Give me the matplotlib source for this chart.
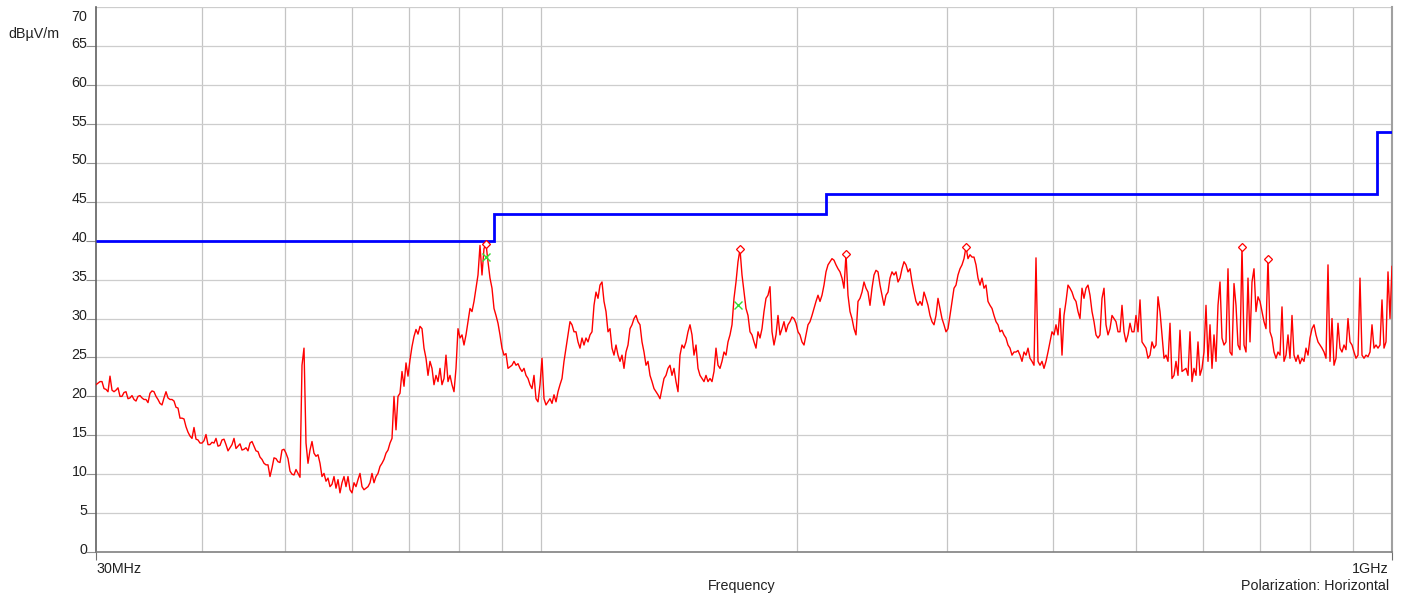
import numpy as np
import matplotlib
matplotlib.use("Agg")
import matplotlib.pyplot as plt
from matplotlib.ticker import NullLocator, FixedLocator

plt.rcParams['font.family'] = ['Liberation Sans', 'DejaVu Sans']

# Sweep: log-spaced receiver points from 30 MHz to 1 GHz (dBµV/m)
f_start, f_stop = 30.0, 1000.0
level = [
    21.5, 21.7, 21.9, 21.9, 21.0, 20.9, 20.6, 22.6, 20.8, 20.6,
    20.8, 21.1, 20.0, 20.0, 20.5, 20.6, 19.7, 19.8, 20.1, 19.6,
    19.4, 20.0, 20.1, 19.8, 19.6, 19.6, 19.2, 20.4, 20.7, 20.6,
    20.0, 19.6, 19.1, 18.9, 19.8, 20.6, 19.8, 19.6, 19.6, 19.4,
    18.6, 18.5, 17.2, 17.2, 17.1, 16.1, 15.4, 14.9, 14.6, 16.0,
    14.5, 14.4, 14.0, 14.0, 14.3, 15.1, 13.8, 13.8, 14.1, 14.0,
    14.6, 13.6, 13.7, 14.4, 14.5, 13.8, 13.0, 13.4, 13.8, 14.6,
    13.3, 13.6, 13.9, 13.1, 13.2, 13.4, 13.0, 14.0, 14.2, 13.6,
    13.0, 12.9, 12.2, 11.9, 11.4, 11.2, 11.2, 9.7, 10.8, 12.1,
    12.0, 11.6, 11.5, 13.1, 13.2, 12.7, 12.0, 10.4, 10.0, 9.9,
    10.6, 10.1, 9.6, 24.0, 26.2, 14.0, 11.4, 13.1, 14.2, 12.7,
    12.3, 12.5, 11.4, 9.7, 10.1, 9.1, 9.5, 8.4, 8.7, 9.7,
    8.2, 9.3, 7.6, 8.9, 9.7, 8.4, 9.7, 8.0, 7.6, 8.9,
    8.4, 9.3, 10.1, 8.4, 8.0, 8.2, 8.4, 8.9, 10.1, 8.9,
    9.7, 10.1, 11.0, 11.4, 11.9, 12.7, 13.1, 14.0, 14.6, 20.0,
    15.7, 20.0, 20.4, 23.2, 21.3, 24.3, 22.6, 24.7, 26.4, 27.7,
    28.6, 28.0, 29.0, 28.7, 26.2, 24.9, 22.7, 24.5, 23.6, 21.5,
    22.7, 21.9, 23.6, 21.5, 22.3, 25.3, 21.9, 22.7, 21.5, 20.6,
    23.6, 28.7, 27.5, 27.9, 26.6, 27.9, 29.6, 31.3, 30.9, 32.2,
    33.9, 35.6, 39.4, 35.6, 39.0, 39.6, 37.3, 35.2, 33.9, 31.3,
    30.4, 29.4, 27.9, 26.2, 25.3, 25.5, 23.6, 23.8, 24.0, 24.5,
    24.0, 24.2, 23.6, 23.2, 23.6, 22.7, 22.3, 21.5, 21.0, 22.7,
    19.7, 19.3, 21.5, 24.9, 19.7, 18.9, 19.3, 19.7, 19.1, 20.2,
    19.3, 20.6, 21.5, 22.3, 24.5, 26.2, 27.9, 29.6, 29.2, 28.3,
    28.3, 27.0, 26.2, 27.5, 26.6, 27.5, 27.0, 27.9, 28.3, 31.7,
    33.4, 32.6, 34.3, 34.7, 32.2, 30.9, 28.3, 28.7, 26.2, 25.3,
    26.6, 25.3, 24.5, 25.3, 23.6, 25.7, 26.6, 28.7, 29.2, 30.0,
    30.4, 29.6, 29.2, 27.0, 25.7, 24.0, 24.5, 22.7, 21.9, 21.0,
    20.6, 20.2, 19.7, 21.0, 22.3, 22.7, 23.6, 24.0, 22.7, 23.6,
    21.9, 20.6, 25.3, 26.6, 26.2, 27.0, 28.3, 29.2, 27.9, 25.3,
    26.6, 23.6, 22.7, 22.3, 21.9, 22.7, 21.9, 22.3, 21.9, 23.2,
    26.2, 24.0, 23.6, 24.5, 25.7, 25.3, 27.0, 27.9, 29.2, 32.6,
    34.7, 37.3, 38.9, 35.6, 33.4, 31.3, 30.4, 28.3, 27.9, 27.0,
    26.2, 28.3, 27.5, 28.7, 30.9, 32.6, 33.0, 34.1, 28.3, 26.6,
    27.9, 30.4, 27.9, 28.7, 29.6, 28.3, 29.2, 29.6, 30.2, 30.0,
    29.4, 28.3, 27.9, 27.0, 26.6, 27.9, 29.2, 29.6, 30.4, 31.3,
    32.2, 33.0, 32.2, 33.0, 34.3, 36.0, 36.9, 37.3, 37.7, 37.5,
    36.9, 36.4, 36.0, 35.2, 33.9, 38.3, 33.0, 30.9, 30.0, 28.7,
    27.9, 32.2, 32.6, 33.4, 34.7, 33.9, 33.4, 31.7, 33.9, 35.6,
    36.2, 36.0, 34.3, 33.0, 31.7, 33.0, 33.4, 35.2, 36.0, 35.6,
    36.0, 34.7, 35.2, 36.4, 37.3, 36.9, 36.0, 36.4, 34.7, 33.4,
    32.2, 31.7, 32.2, 31.7, 33.4, 32.6, 31.7, 30.4, 29.6, 29.2,
    30.4, 32.6, 31.3, 30.0, 29.2, 28.3, 28.7, 30.4, 32.2, 33.9,
    34.3, 35.6, 36.4, 36.9, 37.7, 39.2, 37.7, 38.2, 37.9, 37.9,
    36.9, 35.2, 34.3, 35.2, 33.9, 34.3, 32.2, 31.7, 31.3, 30.4,
    29.6, 29.2, 28.3, 28.5, 27.9, 27.5, 26.6, 26.2, 25.3, 25.7,
    25.7, 25.9, 25.3, 24.5, 25.7, 25.3, 26.2, 24.9, 24.5, 24.0,
    37.8, 24.5, 24.0, 24.5, 23.6, 24.5, 25.7, 27.0, 28.3, 27.9,
    29.2, 27.9, 31.3, 25.3, 30.4, 32.2, 34.3, 33.9, 33.4, 32.6,
    32.2, 30.9, 30.0, 33.9, 32.6, 33.9, 34.3, 33.0, 30.9, 29.6,
    27.9, 27.5, 27.9, 32.6, 33.9, 29.2, 27.9, 28.7, 30.4, 30.0,
    29.6, 28.3, 28.3, 31.7, 28.3, 27.0, 27.9, 29.4, 28.3, 28.3,
    30.4, 28.3, 32.4, 27.0, 26.6, 26.2, 24.9, 25.3, 27.0, 26.2,
    26.6, 32.8, 30.9, 27.9, 24.9, 25.3, 24.5, 29.4, 22.3, 22.7,
    24.5, 22.7, 28.5, 23.2, 23.4, 23.6, 22.7, 28.3, 21.9, 23.6,
    22.7, 27.0, 22.7, 23.6, 25.7, 31.7, 24.5, 29.2, 23.6, 27.9,
    24.5, 31.7, 34.7, 27.5, 26.6, 27.0, 36.4, 25.7, 25.3, 34.5,
    31.7, 26.6, 26.0, 39.2, 26.6, 25.7, 35.2, 27.0, 34.7, 36.4,
    30.9, 32.8, 32.2, 30.9, 29.6, 28.7, 37.7, 28.3, 27.5, 25.7,
    24.9, 25.7, 25.3, 31.5, 24.5, 25.3, 27.9, 24.9, 30.4, 25.3,
    24.5, 25.3, 24.2, 24.9, 24.5, 26.2, 25.3, 27.5, 28.7, 29.2,
    27.9, 27.0, 26.6, 26.2, 25.7, 24.9, 36.9, 24.5, 30.0, 24.0,
    24.9, 29.4, 26.2, 25.7, 26.6, 26.0, 30.0, 27.0, 26.6, 25.7,
    24.9, 25.3, 35.2, 25.3, 24.9, 25.3, 25.1, 25.7, 29.2, 26.2,
    26.6, 26.2, 26.6, 32.4, 26.2, 27.0, 36.0, 30.0,
    36.7,
]
freq = np.geomspace(f_start, f_stop, len(level))

# Class B limit (dBµV/m)
limit_edges = [30, 88, 216, 960, 1000]
limit_levels = [40, 43.5, 46, 54]

# Peak markers (diamonds) and quasi-peak results (crosses)
peak_freq = [86.2, 171.3, 228.3, 315.8, 666.6, 715.1]
peak_level = [39.6, 38.9, 38.3, 39.2, 39.2, 37.7]
qp_freq = [86.2, 170.5]
qp_level = [37.9, 31.8]

y_ticks = list(range(0, 75, 5))
FS = 10.3
TXT = '#222222'

W, H = 1405, 596
fig = plt.figure(figsize=(W / 100, H / 100), dpi=100)
ax = fig.add_axes([96 / W, 1 - 552 / H, (1392 - 96) / W, (552 - 7.3) / H])

ax.set_xscale('log')
ax.set_xlim(f_start, f_stop)
ax.set_ylim(0, 70)

grid_f = [40, 50, 60, 70, 80, 90, 100, 200, 300, 400, 500, 600, 700, 800, 900]
for g in grid_f:
    ax.axvline(g, color='#c4c4c4', lw=0.9, zorder=0)
for v in y_ticks[1:]:
    ax.axhline(v, color='#cdcdcd', lw=0.9, zorder=0)

ax.xaxis.set_major_locator(FixedLocator([30, 1000]))
ax.xaxis.set_minor_locator(NullLocator())
ax.set_xticklabels([])
ax.tick_params(axis='x', length=6, width=0.8, color='#707070')
ax.yaxis.set_major_locator(FixedLocator(y_ticks[:-1]))
ax.set_yticklabels([])
ax.tick_params(axis='y', length=7, width=0.8, color='#909090')

ax.spines['top'].set_visible(False)
ax.spines['left'].set_color('#606060')
ax.spines['left'].set_linewidth(1.2)
ax.spines['bottom'].set_color('#808080')
ax.spines['bottom'].set_linewidth(1.2)
ax.spines['right'].set_color('#a0a0a0')
ax.spines['right'].set_linewidth(1.5)

ytr = ax.get_yaxis_transform()
for v in y_ticks:
    if v == 70:
        ax.text(-0.0066, v - 0.4, str(v), transform=ytr, ha='right', va='top',
                fontsize=FS, color=TXT)
    else:
        ax.text(-0.0066, v - 0.2, str(v), transform=ytr, ha='right', va='baseline',
                fontsize=FS, color=TXT)

fig.text(8 / W, 1 - 34 / H, 'dBµV/m', ha='left', va='center', fontsize=FS, color=TXT)
fig.text(96 / W, 1 - 569 / H, '30MHz', ha='left', va='center', fontsize=FS, color=TXT)
fig.text(1389 / W, 1 - 569 / H, '1GHz', ha='right', va='center', fontsize=FS, color=TXT)
fig.text(742 / W, 1 - 586 / H, 'Frequency', ha='center', va='center', fontsize=FS, color=TXT)
fig.text(1389 / W, 1 - 586 / H, 'Polarization: Horizontal', ha='right', va='center',
         fontsize=FS, color=TXT)

ax.plot(freq, level, color='#ff0000', lw=1.0, zorder=3)
ax.stairs(limit_levels, limit_edges, color='#0000ff', lw=2.0, baseline=None, zorder=4)
ax.plot(peak_freq, peak_level, ls='none', marker='D', ms=4.5, mfc='white',
        mec='#ff0000', mew=0.9, zorder=5)
ax.plot(qp_freq, qp_level, ls='none', marker='x', ms=6, mec='#33dd33', mew=1.0, zorder=5)

fig.savefig('out.png', dpi=100)
